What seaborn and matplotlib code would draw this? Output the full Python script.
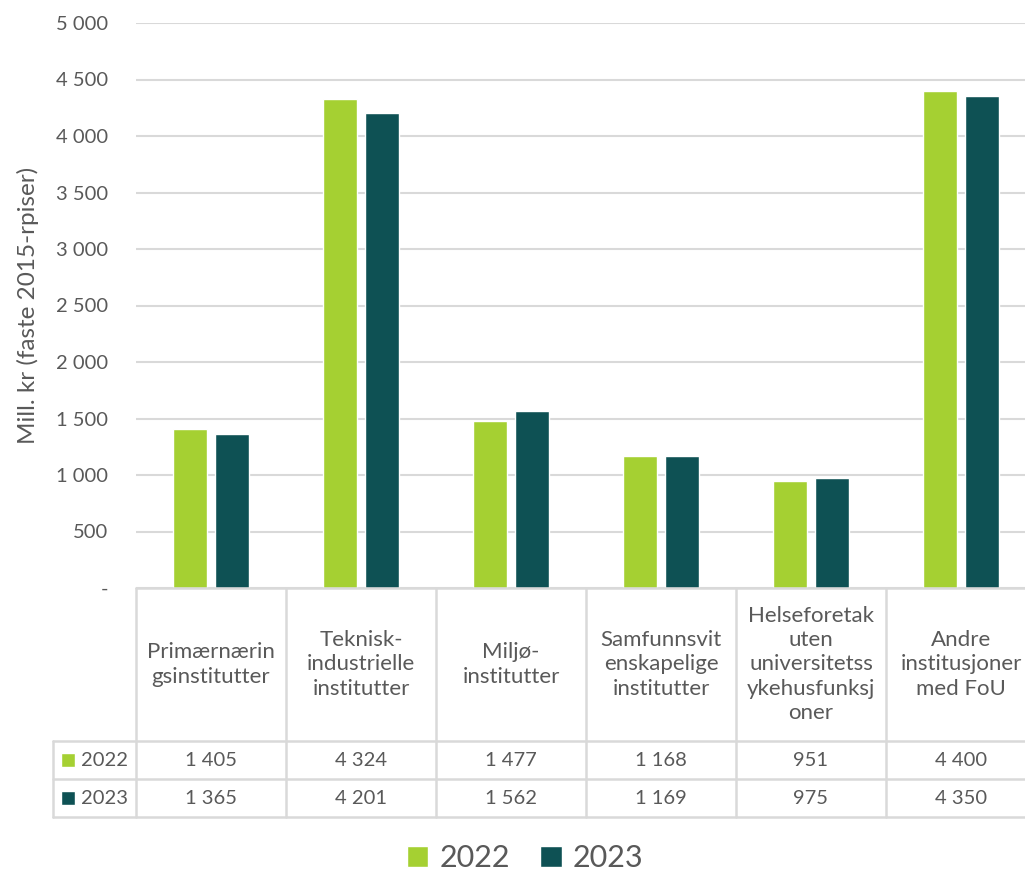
import pandas as pd
import matplotlib.pyplot as plt
import seaborn as sns
from matplotlib.patches import Patch
from matplotlib.ticker import FuncFormatter, MultipleLocator

categories = ['Primærnæringsinstitutter', 'Teknisk-industrielle institutter',
              'Miljøinstitutter', 'Samfunnsvitenskapelige institutter',
              'Helseforetak uten universitetssykehusfunksjoner',
              'Andre institusjoner med FoU']
header_labels = ['Primærnærin\ngsinstitutter', 'Teknisk-\nindustrielle\ninstitutter',
                 'Miljø-\ninstitutter', 'Samfunnsvit\nenskapelige\ninstitutter',
                 'Helseforetak\nuten\nuniversitetss\nykehusfunksj\noner',
                 'Andre\ninstitusjoner\nmed FoU']
years = ['2022', '2023']
values_2022 = [1405, 4324, 1477, 1168, 951, 4400]
values_2023 = [1365, 4201, 1562, 1169, 975, 4350]
colors = ['#A5D032', '#0E5154']

TEXT = '#595959'
GRID = '#D9D9D9'

sns.set_style('white')
plt.rcParams['font.family'] = ['Lato', 'DejaVu Sans']

df = pd.DataFrame({
    'kategori': categories * 2,
    'år': [years[0]] * len(categories) + [years[1]] * len(categories),
    'verdi': values_2022 + values_2023,
})

W, H = 1025, 874
fig = plt.figure(figsize=(W / 100, H / 100), dpi=100)
# plot area: x 136 -> 1036 px, y 23 -> 588 px
ax = fig.add_axes([136 / W, 1 - 588 / H, 900 / W, 565 / H])

sns.barplot(data=df, x='kategori', y='verdi', hue='år', palette=colors,
            width=0.56, gap=0.2, ax=ax, legend=False, saturation=1)

ax.set_ylim(0, 5000)
ax.set_xlim(-0.5, len(categories) - 0.5)
ax.yaxis.set_major_locator(MultipleLocator(500))
ax.yaxis.set_major_formatter(FuncFormatter(
    lambda v, p: '-' if v == 0 else f'{v:,.0f}'.replace(',', ' ')))
ax.grid(axis='y', color=GRID, linewidth=1.5)
ax.set_axisbelow(True)
for s in ax.spines.values():
    s.set_visible(False)
ax.tick_params(axis='y', length=0, pad=20, labelsize=14.5, labelcolor=TEXT)
ax.set_xticks([])
ax.set_xlabel('')
ax.set_ylabel('Mill. kr (faste 2015-rpiser)', fontsize=17.5, color=TEXT, labelpad=12)

# data table under the plot
def yfrac(py):
    return (588 - py) / 565

tr = ax.get_xaxis_transform()
y_top, y_r1, y_r2, y_bot = yfrac(588), yfrac(741), yfrac(779), yfrac(817)
x_leg = -0.5 - 83 / 150
xr = len(categories) - 0.5
lk = dict(color=GRID, linewidth=1.8, transform=tr, clip_on=False)
ax.plot([-0.5, xr], [y_top, y_top], **lk)
for yy in (y_r1, y_r2, y_bot):
    ax.plot([x_leg, xr], [yy, yy], **lk)
ax.plot([x_leg, x_leg], [y_r1, y_bot], **lk)
for i in range(len(categories) + 1):
    ax.plot([i - 0.5, i - 0.5], [y_top, y_bot], **lk)

for i, lab in enumerate(header_labels):
    ax.text(i, (y_top + y_r1) / 2, lab, transform=tr, ha='center', va='center',
            fontsize=16, color=TEXT, linespacing=1.28)

fmt = lambda v: f'{v:,.0f}'.replace(',', ' ')
rows = [(values_2022, (y_r1 + y_r2) / 2), (values_2023, (y_r2 + y_bot) / 2)]
for k, (vals, yc) in enumerate(rows):
    for i, v in enumerate(vals):
        ax.text(i, yc, fmt(v), transform=tr, ha='center', va='center',
                fontsize=14.5, color=TEXT)
    ax.add_patch(plt.Rectangle((x_leg + 8 / 150, yc - 0.0125), 14 / 150, 0.025,
                               facecolor=colors[k], transform=tr, clip_on=False))
    ax.text(x_leg + 28 / 150, yc, years[k], transform=tr, ha='left', va='center',
            fontsize=14.5, color=TEXT)

handles = [Patch(facecolor=c, label=y) for c, y in zip(colors, years)]
fig.legend(handles=handles, loc='center', bbox_to_anchor=(525 / W, 1 - 858 / H),
           ncol=2, frameon=False, fontsize=22, labelcolor=TEXT,
           handlelength=0.7, handleheight=0.7, handletextpad=0.35, columnspacing=1.0)

fig.savefig('out.png', dpi=100)
